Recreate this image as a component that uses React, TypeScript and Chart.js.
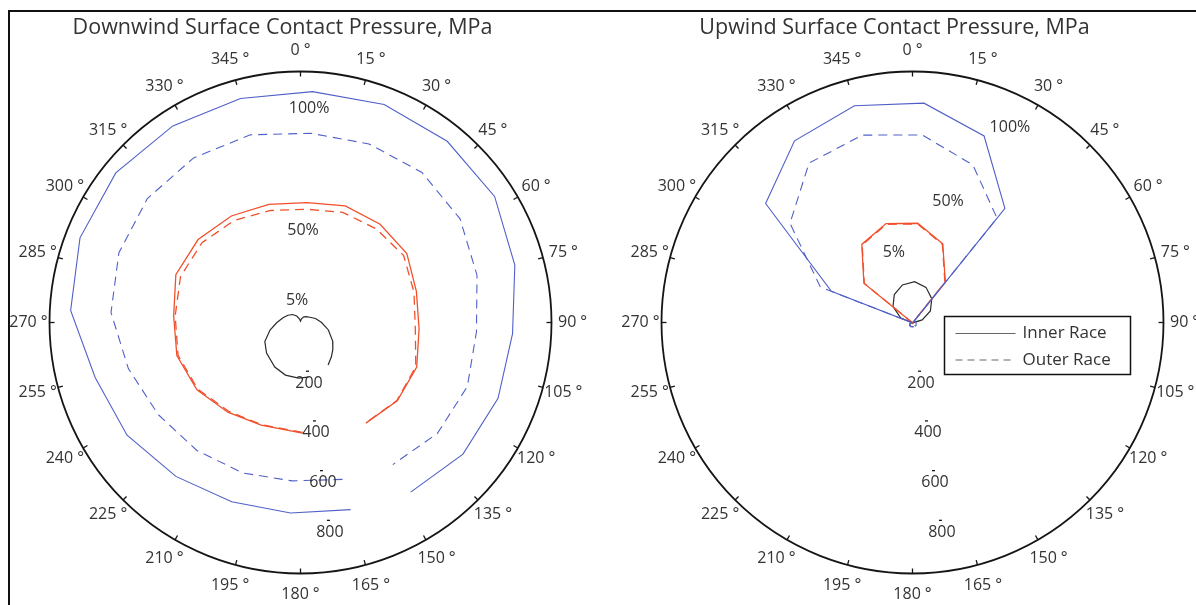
import React, { useEffect, useRef } from "react";
import { Chart, registerables } from "chart.js";

Chart.register(...registerables);

const FONT = '"Open Sans", "DejaVu Sans", sans-serif';
const TEXT_COLOR = "#333333";
const BLUE = "#5060c8";
const RED = "#f2502c";
const BLACK = "#2b2b2b";

const R_MAX = 1000;
const ANGLE_TICKS = [0, 15, 30, 45, 60, 75, 90, 105, 120, 135, 150, 165, 180, 195, 210, 225, 240, 255, 270, 285, 300, 315, 330, 345];
const RADIAL_TICKS = [200, 400, 600, 800];

// measurement angles (degrees, clockwise from top)
const GRID = [165, 183, 201, 219, 237, 255, 273, 291, 309, 327, 345, 3, 21, 39, 57, 75, 93, 111, 129, 147];

// ---- Downwind (MPa) ----
const DOWN_TITLE = "Downwind Surface Contact Pressure, MPa";
const DOWN_INNER_100 = [772, 760, 765, 789, 824, 847, 917, 941, 947, 934, 924, 921, 930, 929, 922, 884, 846, 843, 833, 806];
const DOWN_OUTER_100 = [647, 632, 642, 656, 675, 710, 756, 775, 785, 782, 774, 755, 762, 769, 758, 728, 702, 712, 702, 675];
const DOWN_50_ANGLES = [179, 201, 219, 237, 255, 273, 291, 309, 327, 345, 3, 21, 39, 57, 75, 93, 111, 129, 147];
const DOWN_INNER_50 = [441, 438, 460, 492, 510, 506, 532, 525, 506, 487, 478, 498, 504, 505, 478, 473, 496, 496, 478];
const DOWN_OUTER_50 = [438, 436, 455, 488, 505, 500, 512, 505, 485, 462, 452, 470, 480, 490, 468, 458, 492, 494, 477];
const DOWN_5_ANGLES = [172, 182, 196, 210, 228, 242, 256, 270, 285, 300, 315, 330, 345, 0, 15, 30, 45, 60, 75, 90, 105, 120, 130, 138, 147];
const DOWN_INNER_5 = [220, 222, 218, 205, 182, 161, 125, 94, 72, 58, 45, 30, 14, 5, 15, 26, 33, 42, 62, 84, 115, 148, 168, 184, 202];
const DOWN_NOTES = ["100%", "50%", "5%"];
const DOWN_NOTE_ANGLES = [2.3, 1.6, 351];
const DOWN_NOTE_RADII = [855, 365, 87];

// ---- Upwind (MPa) ----
const UP_TITLE = "Upwind Surface Contact Pressure, MPa";
const UP_INNER_100 = [18, 18, 18, 16, 14, 10, 5, 346, 753, 863, 894, 875, 796, 585, 5, 10, 14, 16, 18, 18];
const UP_OUTER_100 = [16, 16, 16, 14, 12, 8, 4, 393, 628, 757, 773, 748, 672, 535, 4, 8, 12, 14, 16, 16];
const UP_INNER_50 = [3, 3, 3, 3, 3, 3, 3, 3, 249, 371, 408, 396, 336, 208, 3, 3, 3, 3, 3, 3];
const UP_OUTER_50 = [3, 3, 3, 3, 3, 3, 3, 3, 247, 368, 405, 393, 333, 205, 3, 3, 3, 3, 3, 3];
const UP_INNER_5 = [3, 3, 3, 3, 3, 3, 4, 50, 100, 133, 155, 163, 150, 122, 85, 40, 4, 3, 3, 3];
const UP_NOTES = ["100%", "50%", "5%"];
const UP_NOTE_ANGLES = [26.6, 16.3, 345];
const UP_NOTE_RADII = [867, 504, 287];

const LEGEND_LABELS = ["Inner Race", "Outer Race"];

const rad = (d: number) => (d * Math.PI) / 180;

function toXY(angles: number[], radii: number[]) {
  return angles.map((a, i) => ({ x: radii[i] * Math.sin(rad(a)), y: radii[i] * Math.cos(rad(a)) }));
}

function line(data: any, color: string, dashed: boolean, width = 1.2) {
  return {
    data,
    showLine: true,
    borderColor: color,
    backgroundColor: color,
    borderWidth: width,
    borderDash: dashed ? [9, 6] : [],
    pointRadius: 0,
    fill: false,
    tension: 0,
  };
}

function polarPlugin(title: string, notes: string[], noteAngles: number[], noteRadii: number[], legend: boolean) {
  return {
    id: "polarDecor",
    afterDatasetsDraw(chart: any) {
      const ctx = chart.ctx as CanvasRenderingContext2D;
      const xs = chart.scales.x;
      const ys = chart.scales.y;
      const cx = xs.getPixelForValue(0);
      const cy = ys.getPixelForValue(0);
      const R = xs.getPixelForValue(R_MAX) - cx;
      const pt = (angle: number, r: number) => ({
        x: xs.getPixelForValue(r * Math.sin(rad(angle))),
        y: ys.getPixelForValue(r * Math.cos(rad(angle))),
      });
      ctx.save();
      // outer circle
      ctx.strokeStyle = "#151515";
      ctx.lineWidth = 1.8;
      ctx.beginPath();
      ctx.arc(cx, cy, R, 0, Math.PI * 2);
      ctx.stroke();
      // ticks and angle labels
      ctx.lineWidth = 1.3;
      ctx.fillStyle = TEXT_COLOR;
      ctx.font = `16px ${FONT}`;
      ctx.textAlign = "center";
      ctx.textBaseline = "middle";
      ANGLE_TICKS.forEach((a) => {
        const s = Math.sin(rad(a));
        const c = Math.cos(rad(a));
        ctx.beginPath();
        ctx.moveTo(cx + s * R, cy - c * R);
        ctx.lineTo(cx + s * (R - 5), cy - c * (R - 5));
        ctx.stroke();
        const lr = R * 1.084;
        ctx.fillText(`${a}\u2005°`, cx + s * lr, cy - c * lr);
      });
      // radial tick labels
      ctx.font = `16px ${FONT}`;
      RADIAL_TICKS.forEach((v) => {
        const p = pt(172, v);
        ctx.beginPath();
        ctx.moveTo(p.x - 1.5, p.y - 1);
        ctx.lineTo(p.x + 1.5, p.y - 1);
        ctx.stroke();
        ctx.fillText(String(v), p.x + 1.5, p.y + 11);
      });
      // percentage notes
      notes.forEach((t, i) => {
        const p = pt(noteAngles[i], noteRadii[i]);
        ctx.fillText(t, p.x, p.y);
      });
      // title
      ctx.font = `21.5px ${FONT}`;
      ctx.textBaseline = "alphabetic";
      ctx.fillText(title, cx - 18, 33.5);
      // legend
      if (legend) {
        const bx = cx + 32;
        const by = cy - 6;
        ctx.fillStyle = "#ffffff";
        ctx.fillRect(bx, by, 186, 58);
        ctx.strokeStyle = "#111";
        ctx.lineWidth = 1.5;
        ctx.strokeRect(bx, by, 186, 58);
        ctx.strokeStyle = "#666";
        ctx.lineWidth = 1.1;
        ctx.beginPath();
        ctx.moveTo(bx + 11, by + 17);
        ctx.lineTo(bx + 71, by + 17);
        ctx.stroke();
        ctx.setLineDash([7, 5]);
        ctx.beginPath();
        ctx.moveTo(bx + 11, by + 43.5);
        ctx.lineTo(bx + 71, by + 43.5);
        ctx.stroke();
        ctx.setLineDash([]);
        ctx.fillStyle = TEXT_COLOR;
        ctx.font = `17px ${FONT}`;
        ctx.textAlign = "left";
        ctx.textBaseline = "middle";
        ctx.fillText(LEGEND_LABELS[0], bx + 78, by + 17);
        ctx.fillText(LEGEND_LABELS[1], bx + 78, by + 43.5);
      }
      ctx.restore();
    },
  };
}

function makeOptions(padRight: number) {
  return {
    responsive: false,
    maintainAspectRatio: false,
    animation: false as const,
    events: [],
    layout: { padding: { left: 49.5, right: padRight, top: 71.5, bottom: 31.5 } },
    scales: {
      x: { type: "linear" as const, min: -R_MAX, max: R_MAX, display: false },
      y: { type: "linear" as const, min: -R_MAX, max: R_MAX, display: false },
    },
    plugins: { legend: { display: false }, tooltip: { enabled: false }, title: { display: false } },
  };
}

export default function App() {
  const leftRef = useRef<HTMLCanvasElement | null>(null);
  const rightRef = useRef<HTMLCanvasElement | null>(null);

  useEffect(() => {
    const left = new Chart(leftRef.current as HTMLCanvasElement, {
      type: "scatter",
      data: {
        datasets: [
          line(toXY(GRID, DOWN_INNER_100), BLUE, false, 1.1),
          line(toXY(GRID, DOWN_OUTER_100), BLUE, true, 1.1),
          line(toXY(DOWN_50_ANGLES, DOWN_INNER_50), RED, false, 1.3),
          line(toXY(DOWN_50_ANGLES, DOWN_OUTER_50), RED, true, 1.3),
          line(toXY(DOWN_5_ANGLES, DOWN_INNER_5), BLACK, false, 1.2),
        ] as any,
      },
      options: makeOptions(48.5) as any,
      plugins: [polarPlugin(DOWN_TITLE, DOWN_NOTES, DOWN_NOTE_ANGLES, DOWN_NOTE_RADII, false)],
    });
    const right = new Chart(rightRef.current as HTMLCanvasElement, {
      type: "scatter",
      data: {
        datasets: [
          line(toXY(GRID, UP_INNER_100), BLUE, false, 1.1),
          line(toXY(GRID, UP_OUTER_100), BLUE, true, 1.1),
          line(toXY(GRID, UP_INNER_50), RED, false, 1.3),
          line(toXY(GRID, UP_OUTER_50), RED, true, 1.3),
          line(toXY(GRID, UP_INNER_5), BLACK, false, 1.2),
        ] as any,
      },
      options: makeOptions(32.5) as any,
      plugins: [polarPlugin(UP_TITLE, UP_NOTES, UP_NOTE_ANGLES, UP_NOTE_RADII, true)],
    });
    return () => {
      left.destroy();
      right.destroy();
    };
  }, []);

  return (
    <div style={{ position: "fixed", left: 0, top: 0, width: 1196, height: 605, background: "#fff", overflow: "hidden" }}>
      <canvas ref={leftRef} width={600} height={605} style={{ position: "absolute", left: 0, top: 0, width: 600, height: 605 }} />
      <canvas ref={rightRef} width={584} height={605} style={{ position: "absolute", left: 612, top: 0, width: 584, height: 605 }} />
      <div
        style={{
          position: "absolute",
          left: 8,
          top: 10,
          width: 1200,
          height: 600,
          borderTop: "2px solid #111",
          borderLeft: "2px solid #111",
          pointerEvents: "none",
        }}
      />
    </div>
  );
}
